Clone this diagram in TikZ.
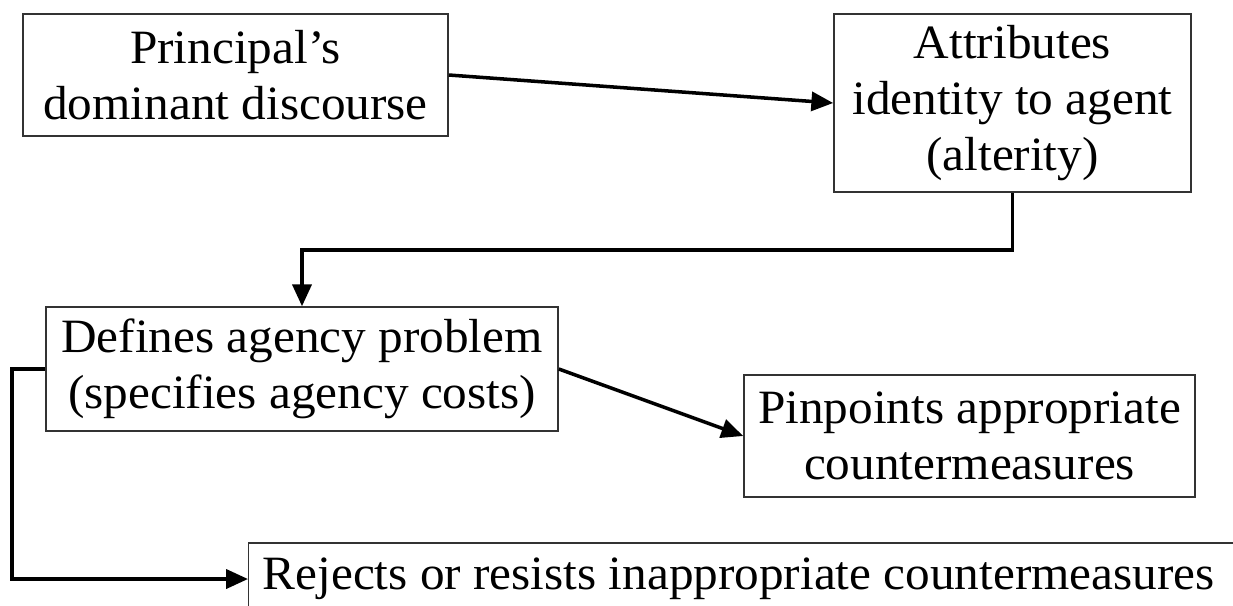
\documentclass[tikz,border=0pt]{standalone}
\usepackage{fontspec}
\setmainfont[FakeStretch=1.03]{Liberation Serif}
\usetikzlibrary{arrows.meta}
\begin{document}
\begin{tikzpicture}[x=0.01cm,y=-0.01cm,
  box/.style={draw=black!80,line width=0.4pt,align=center,inner sep=0pt,
    font=\fontsize{13.6}{15.9}\selectfont},
  flow/.style={line width=1pt,-{Triangle[length=6.2pt,width=5.4pt]}}]
\useasboundingbox (0,0) rectangle (1233,605);
\clip (0,0) rectangle (1233,605);
\node[box,minimum width=4.25cm,minimum height=1.22cm] (discourse) at (235.5,75) {Principal's\\dominant discourse};
\node[box,minimum width=3.57cm,minimum height=1.78cm] (identity) at (1012.5,103) {Attributes\\identity to agent\\(alterity)};
\node[box,minimum width=5.12cm,minimum height=1.24cm] (problem) at (302,369) {Defines agency problem\\(specifies agency costs)};
\node[box,minimum width=4.51cm,minimum height=1.22cm] (pinpoint) at (969.5,436) {Pinpoints appropriate\\countermeasures};
\node[box,anchor=west,align=flush left,text width=9.8cm,inner xsep=0.14cm,minimum height=0.72cm] (reject) at (248,579) {Rejects or resists inappropriate countermeasures};
\draw[flow] (discourse.east) -- (identity.west);
\draw[flow] (identity.south) -- ++(0,57) -| (problem.north);
\draw[flow] (problem.east) -- (pinpoint.west);
\draw[flow] (problem.west) -- ++(-33,0) |- (reject.west);
\end{tikzpicture}
\end{document}
